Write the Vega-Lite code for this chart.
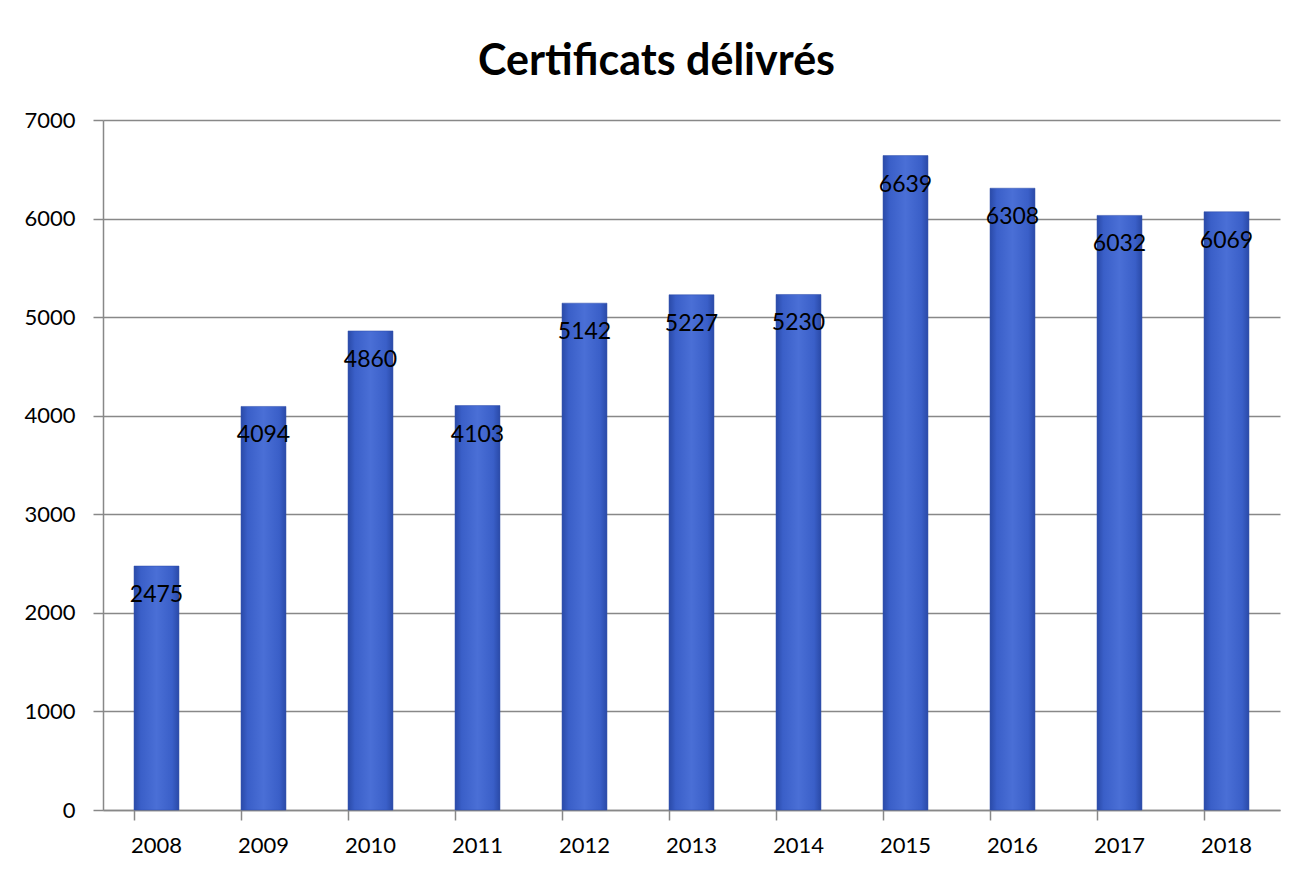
{
  "$schema": "https://vega.github.io/schema/vega-lite/v6.json",
  "autosize": "none",
  "width": 1177,
  "height": 690,
  "padding": {"left": 103, "top": 120, "right": 29, "bottom": 64},
  "background": "white",
  "title": {
    "text": "Certificats délivrés",
    "font": "Lato",
    "fontSize": 43,
    "fontWeight": "bold",
    "color": "#000000",
    "anchor": "middle",
    "dx": -35,
    "offset": 25
  },
  "data": {
    "values": [
      {"year": "2008", "value": 2475},
      {"year": "2009", "value": 4094},
      {"year": "2010", "value": 4860},
      {"year": "2011", "value": 4103},
      {"year": "2012", "value": 5142},
      {"year": "2013", "value": 5227},
      {"year": "2014", "value": 5230},
      {"year": "2015", "value": 6639},
      {"year": "2016", "value": 6308},
      {"year": "2017", "value": 6032},
      {"year": "2018", "value": 6069}
    ]
  },
  "encoding": {
    "x": {
      "field": "year",
      "type": "nominal",
      "title": null,
      "scale": {"paddingInner": 0.58, "paddingOuter": 0.29},
      "axis": {
        "labelAngle": 0,
        "labelFont": "Lato",
        "labelFontSize": 22,
        "labelColor": "#000000",
        "labelPadding": 15,
        "bandPosition": 0,
        "tickSize": 10,
        "tickColor": "#888888",
        "tickWidth": 1.5,
        "domainColor": "#888888",
        "domainWidth": 1.5,
        "grid": false
      }
    },
    "y": {
      "field": "value",
      "type": "quantitative",
      "title": null,
      "scale": {"domain": [0, 7000], "nice": false},
      "axis": {
        "values": [0, 1000, 2000, 3000, 4000, 5000, 6000, 7000],
        "format": "d",
        "labelFont": "Lato",
        "labelFontSize": 22,
        "labelColor": "#000000",
        "labelPadding": 18,
        "tickSize": 10,
        "tickColor": "#888888",
        "tickWidth": 1.5,
        "domainColor": "#888888",
        "domainWidth": 1.5,
        "grid": true,
        "gridColor": "#888888",
        "gridWidth": 1.5
      }
    }
  },
  "layer": [
    {
      "mark": {
        "type": "bar",
        "color": {
          "gradient": "linear",
          "x1": 0, "y1": 0, "x2": 1, "y2": 0,
          "stops": [
            {"offset": 0, "color": "#2a4aa8"},
            {"offset": 0.15, "color": "#3a5fc8"},
            {"offset": 0.5, "color": "#4a6fd6"},
            {"offset": 0.85, "color": "#3a5fc8"},
            {"offset": 1, "color": "#2a4aa8"}
          ]
        },
        "stroke": "#2a4aa8",
        "strokeWidth": 0.5
      }
    },
    {
      "mark": {
        "type": "text",
        "font": "Lato",
        "fontSize": 23,
        "color": "#000000",
        "baseline": "middle",
        "dy": 29
      },
      "encoding": {"text": {"field": "value", "type": "quantitative", "format": "d"}}
    }
  ],
  "config": {"view": {"stroke": null}}
}
